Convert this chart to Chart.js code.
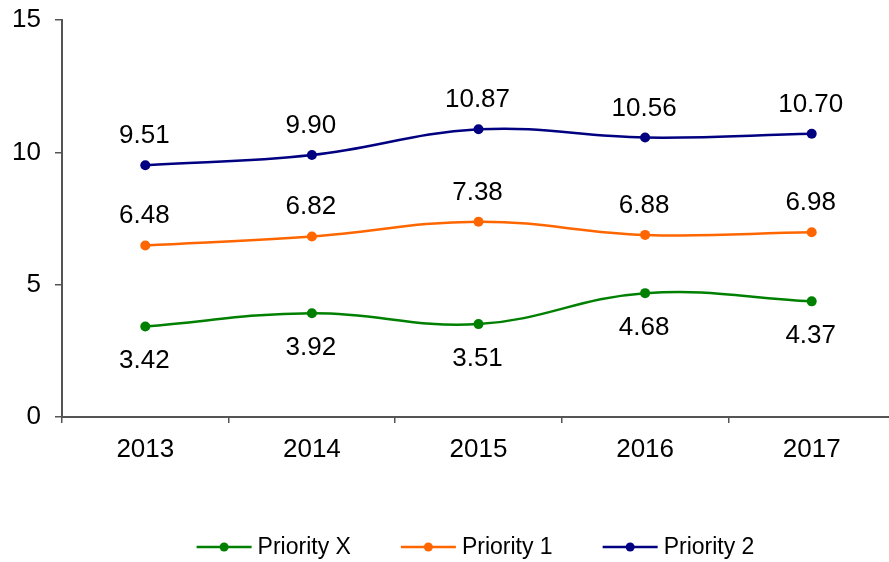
<!DOCTYPE html>
<html>
<head>
<meta charset="utf-8">
<script src="https://cdn.jsdelivr.net/npm/chart.js@4"></script>
<style>
html,body{margin:0;padding:0;background:#fff;overflow:hidden;}
#wrap{width:889px;height:562px;position:relative;overflow:hidden;}
canvas{display:block;}
</style>
</head>
<body>
<div id="wrap"><canvas id="c" width="900" height="562"></canvas></div>
<script>
const categories = ['2013', '2014', '2015', '2016', '2017'];
const priorityX = [3.42, 3.92, 3.51, 4.68, 4.37];
const priority1 = [6.48, 6.82, 7.38, 6.88, 6.98];
const priority2 = [9.51, 9.90, 10.87, 10.56, 10.70];
const yTicks = [0, 5, 10, 15];

const FONT = "'Liberation Sans', Arial, sans-serif";

const seriesDefs = [
  {label: 'Priority X', data: priorityX, color: '#008000', pos: 'below'},
  {label: 'Priority 1', data: priority1, color: '#FF6600', pos: 'above'},
  {label: 'Priority 2', data: priority2, color: '#000080', pos: 'above'}
];

const dataLabelPlugin = {
  id: 'dataLabels',
  afterDatasetsDraw(chart) {
    const ctx = chart.ctx;
    ctx.save();
    ctx.font = '26px ' + FONT;
    ctx.fillStyle = '#000';
    ctx.textAlign = 'center';
    ctx.textBaseline = 'alphabetic';
    chart.data.datasets.forEach((ds, i) => {
      const meta = chart.getDatasetMeta(i);
      meta.data.forEach((pt, j) => {
        const off = ds.labelPos === 'below' ? 42 : -22;
        ctx.fillText(ds.data[j].toFixed(2), pt.x - 1, pt.y + off);
      });
    });
    ctx.restore();
  }
};

const customLegend = {
  id: 'customLegend',
  afterDraw(chart) {
    const ctx = chart.ctx;
    const ca = chart.chartArea;
    ctx.save();
    ctx.font = '23px ' + FONT;
    ctx.textBaseline = 'middle';
    ctx.textAlign = 'left';
    const lineW = 55, gapText = 6, gapItem = 50;
    const items = chart.data.datasets.map(ds => ({
      text: ds.label, color: ds.borderColor, w: lineW + gapText + ctx.measureText(ds.label).width
    }));
    const total = items.reduce((a, it) => a + it.w, 0) + gapItem * (items.length - 1);
    let x = (ca.left + ca.right) / 2 - 3 - total / 2;
    const y = 547;
    items.forEach(it => {
      ctx.strokeStyle = it.color;
      ctx.lineWidth = 2.5;
      ctx.beginPath(); ctx.moveTo(x, y); ctx.lineTo(x + lineW, y); ctx.stroke();
      ctx.fillStyle = it.color;
      ctx.beginPath(); ctx.arc(x + lineW / 2, y, 4.5, 0, Math.PI * 2); ctx.fill();
      ctx.fillStyle = '#000';
      ctx.fillText(it.text, x + lineW + gapText, y + 1);
      x += it.w + gapItem;
    });
    ctx.restore();
  }
};

new Chart(document.getElementById('c'), {
  type: 'line',
  data: {
    labels: categories,
    datasets: seriesDefs.map(s => ({
      label: s.label,
      data: s.data,
      borderColor: s.color,
      backgroundColor: s.color,
      borderWidth: 2.5,
      pointRadius: 5,
      pointHoverRadius: 5,
      pointBackgroundColor: s.color,
      pointBorderWidth: 0,
      tension: 0.4,
      fill: false,
      labelPos: s.pos
    }))
  },
  options: {
    responsive: false,
    animation: false,
    devicePixelRatio: 1,
    layout: {padding: {top: 20, right: 0, left: 0, bottom: 75}},
    plugins: {
      tooltip: {enabled: false},
      legend: {display: false}
    },
    scales: {
      x: {
        offset: true,
        grid: {display: true, offset: true, drawOnChartArea: false, tickLength: 6, color: '#555', lineWidth: 1.5},
        border: {display: true, color: '#555', width: 2},
        ticks: {font: {family: FONT, size: 26}, color: '#000', padding: 11},
        afterFit(s) { s.height = 70; s.paddingLeft = 0; s.paddingRight = 0; s.paddingTop = 0; s.paddingBottom = 0; }
      },
      y: {
        min: 0, max: 15,
        afterBuildTicks(s) { s.ticks = yTicks.map(v => ({value: v})); },
        grid: {display: true, drawOnChartArea: false, tickLength: 7, color: '#555', lineWidth: 1.5},
        border: {display: true, color: '#555', width: 2},
        ticks: {font: {family: FONT, size: 26}, color: '#000', padding: 14},
        afterFit(s) { s.width = 62; s.paddingTop = 0; s.paddingBottom = 0; s.paddingLeft = 0; s.paddingRight = 0; }
      }
    }
  },
  plugins: [dataLabelPlugin, customLegend]
});
</script>
</body>
</html>
